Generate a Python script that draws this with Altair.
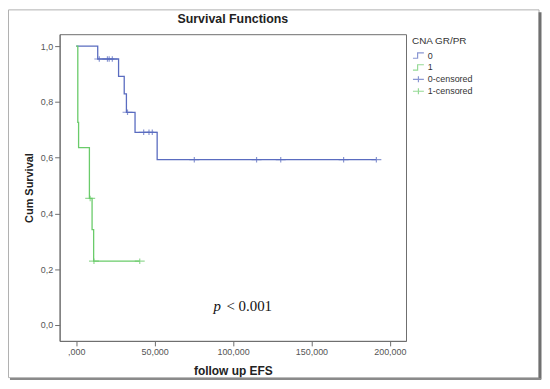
import altair as alt
import pandas as pd

# ---- data ----
blue_t = [0, 13.7, 27.0, 30.6, 32.0, 37.5, 51.6, 191.4]
blue_s = [1.0, 0.954, 0.892, 0.829, 0.763, 0.691, 0.593, 0.593]
green_t = [0, 1.0, 1.5, 8.4, 10.1, 11.1, 40.5]
green_s = [1.0, 0.727, 0.636, 0.454, 0.342, 0.229, 0.229]

cens0_t = [14.7, 19.9, 21.0, 23.0, 32.7, 43.0, 46.4, 48.5, 75.3, 115.0, 130.4, 170.5, 191.4]
cens0_s = [0.954, 0.954, 0.954, 0.954, 0.763, 0.691, 0.691, 0.691, 0.593, 0.593, 0.593, 0.593, 0.593]
cens1_t = [8.9, 11.3, 40.5]
cens1_s = [0.454, 0.229, 0.229]

legend_domain = ["0", "1", "0-censored", "1-censored"]
BLUE = "#5a6cc0"
GREEN = "#6acb6a"

lines = pd.DataFrame(
    {"t": blue_t + green_t,
     "s": blue_s + green_s,
     "grp": ["0"] * len(blue_t) + ["1"] * len(green_t),
     "col": [BLUE] * len(blue_t) + [GREEN] * len(green_t)}
)
cens = pd.DataFrame(
    {"t": cens0_t + cens1_t,
     "s": cens0_s + cens1_s,
     "series": ["0-censored"] * len(cens0_t) + ["1-censored"] * len(cens1_t)}
)

FONT = "Liberation Sans"
xscale = alt.Scale(domain=[-10.6, 210.3], nice=False, zero=False)
yscale = alt.Scale(domain=[-0.057, 1.043], nice=False, zero=False)

xaxis = alt.Axis(
    title="follow up EFS", values=[0, 50, 100, 150, 200],
    labelExpr="datum.value == 0 ? ',000' : format(datum.value, 'd') + ',000'",
    grid=False, tickSize=5, labelFontSize=9, labelColor="#555",
    titleFontSize=12, titleFontWeight="bold", titleColor="#222",
    domainColor="#6e6e6e", tickColor="#6e6e6e", titlePadding=9, labelPadding=2,
)
yaxis = alt.Axis(
    title="Cum Survival", values=[0, 0.2, 0.4, 0.6, 0.8, 1.0],
    labelExpr="replace(format(datum.value, '.1f'), '.', ',')",
    grid=False, tickSize=5, labelFontSize=9, labelColor="#555",
    titleFontSize=11, titleFontWeight="bold", titleColor="#222",
    domainColor="#6e6e6e", tickColor="#6e6e6e", titlePadding=6, labelPadding=2,
)

line_layer = alt.Chart(lines).mark_line(interpolate="step-after", strokeWidth=1.3).encode(
    x=alt.X("t:Q", scale=xscale, axis=xaxis),
    y=alt.Y("s:Q", scale=yscale, axis=yaxis),
    color=alt.Color("col:N", scale=None),
    detail="grp:N",
)

step_path = "M-1,0.5H-0.15V-0.5H1"
plus_path = "M-1,0H1M0,-0.55V0.55"

leg = alt.Legend(title="CNA GR/PR", orient="none", legendX=355, legendY=2)
cens_layer = alt.Chart(cens).mark_point(filled=False, strokeWidth=1.2, size=100).encode(
    x="t:Q",
    y="s:Q",
    color=alt.Color(
        "series:N",
        scale=alt.Scale(domain=legend_domain, range=[BLUE, GREEN, BLUE, GREEN]),
        legend=leg,
    ),
    shape=alt.Shape(
        "series:N",
        scale=alt.Scale(domain=legend_domain, range=[step_path, step_path, plus_path, plus_path]),
        legend=leg,
    ),
)

ann = pd.DataFrame({"t": [87.5, 95.8], "s": [0.068, 0.068], "txt": ["p", "< 0.001"]})
ann_p = alt.Chart(ann[ann.txt == "p"]).mark_text(
    font="Liberation Serif", fontSize=15, fontStyle="italic", align="left", baseline="middle", color="#111"
).encode(x="t:Q", y="s:Q", text="txt:N")
ann_v = alt.Chart(ann[ann.txt != "p"]).mark_text(
    font="Liberation Serif", fontSize=15, align="left", baseline="middle", color="#111"
).encode(x="t:Q", y="s:Q", text="txt:N")

# decorative picture frame around the whole figure
frame_df = pd.DataFrame({"k": [1]})
frame = alt.Chart(frame_df).mark_rect(fill=None, stroke="#b0b0b0", strokeWidth=1).encode(
    x=alt.value(-51.5), x2=alt.value(483), y=alt.value(-24.5), y2=alt.value(346)
)
shadow_r = alt.Chart(frame_df).mark_rule(stroke="#707070", strokeWidth=3).encode(
    x=alt.value(484), y=alt.value(-22), y2=alt.value(348)
)
shadow_b = alt.Chart(frame_df).mark_rule(stroke="#8a8a8a", strokeWidth=2).encode(
    x=alt.value(-50), x2=alt.value(485), y=alt.value(347.5)
)

chart = alt.layer(frame, shadow_r, shadow_b, line_layer, cens_layer, ann_p, ann_v).properties(
    width=349, height=309,
    title=alt.TitleParams("Survival Functions", fontSize=12.5, fontWeight="bold", font=FONT,
                          color="#222", anchor="middle", offset=0, dy=16, frame="group"),
    autosize=alt.AutoSizeParams(type="none"),
    padding={"left": 52, "top": 25, "right": 137, "bottom": 39},
).configure(font=FONT).configure_view(stroke="#6e6e6e", strokeWidth=1).configure_legend(
    labelFontSize=9, titleFontSize=10, titleFontWeight="normal", titleColor="#333",
    labelColor="#333", symbolSize=121, symbolStrokeWidth=1.2, rowPadding=-1,
    titlePadding=3, labelOffset=3,
)

chart.save("out.html", embed_options={"renderer": "svg", "actions": False})
